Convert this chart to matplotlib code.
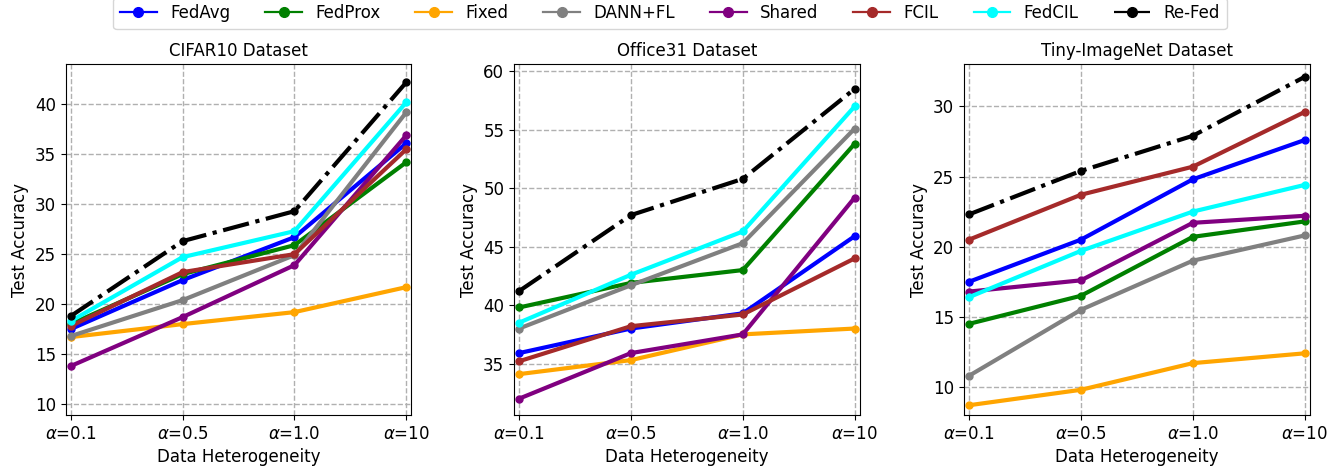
import matplotlib
matplotlib.use("Agg")
import matplotlib.pyplot as plt
from matplotlib.lines import Line2D

x_labels = [r'$\alpha$=0.1', r'$\alpha$=0.5', r'$\alpha$=1.0', r'$\alpha$=10']
methods = ['FedAvg', 'FedProx', 'Fixed', 'DANN+FL', 'Shared', 'FCIL', 'FedCIL', 'Re-Fed']
colors = ['blue', 'green', 'orange', 'gray', 'purple', 'brown', 'cyan', 'black']

cifar10 = {
    'FedAvg':  [17.5, 22.4, 26.7, 36.1],
    'FedProx': [18.0, 23.0, 25.9, 34.2],
    'Fixed':   [16.7, 18.0, 19.2, 21.7],
    'DANN+FL': [16.8, 20.4, 24.9, 39.2],
    'Shared':  [13.8, 18.7, 23.9, 36.9],
    'FCIL':    [17.8, 23.2, 25.0, 35.5],
    'FedCIL':  [18.3, 24.7, 27.3, 40.2],
    'Re-Fed':  [18.8, 26.3, 29.3, 42.2],
}
office31 = {
    'FedAvg':  [35.9, 38.0, 39.3, 45.9],
    'FedProx': [39.8, 41.9, 43.0, 53.8],
    'Fixed':   [34.1, 35.3, 37.5, 38.0],
    'DANN+FL': [38.0, 41.7, 45.3, 55.1],
    'Shared':  [32.0, 35.9, 37.5, 49.2],
    'FCIL':    [35.2, 38.2, 39.2, 44.0],
    'FedCIL':  [38.5, 42.6, 46.3, 57.0],
    'Re-Fed':  [41.2, 47.7, 50.8, 58.5],
}
tiny = {
    'FedAvg':  [17.5, 20.5, 24.8, 27.6],
    'FedProx': [14.5, 16.5, 20.7, 21.8],
    'Fixed':   [8.7, 9.8, 11.7, 12.4],
    'DANN+FL': [10.8, 15.5, 19.0, 20.8],
    'Shared':  [16.8, 17.6, 21.7, 22.2],
    'FCIL':    [20.5, 23.7, 25.7, 29.6],
    'FedCIL':  [16.4, 19.7, 22.5, 24.4],
    'Re-Fed':  [22.3, 25.4, 27.9, 32.1],
}
datasets = [('CIFAR10 Dataset', cifar10, (8.9, 44.0), [10, 15, 20, 25, 30, 35, 40]),
            ('Office31 Dataset', office31, (30.6, 60.6), [35, 40, 45, 50, 55, 60]),
            ('Tiny-ImageNet Dataset', tiny, (8.0, 33.0), [10, 15, 20, 25, 30])]

fig = plt.figure(figsize=(13.4, 4.69), dpi=100)
lefts = [0.049, 0.3836, 0.7194]
w = 0.258
bottom = 0.115
h = 0.748
for i, (title, data, ylim, yt) in enumerate(datasets):
    ax = fig.add_axes([lefts[i], bottom, w, h])
    xs = list(range(len(x_labels)))
    for m, c in zip(methods, colors):
        ls = '-.' if m == 'Re-Fed' else '-'
        ax.plot(xs, data[m], color=c, linestyle=ls, linewidth=3,
                marker='o', markersize=5, label=m)
    ax.set_xlim(-0.045, 3.045)
    ax.set_ylim(*ylim)
    ax.set_yticks(yt)
    ax.set_xticks(xs)
    ax.set_xticklabels(x_labels)
    ax.tick_params(labelsize=12)
    ax.grid(True, linestyle='--', color='#b0b0b0', linewidth=1)
    ax.set_title(title, fontsize=12)
    ax.set_xlabel('Data Heterogeneity', fontsize=12)
    ax.set_ylabel('Test Accuracy', fontsize=12)

handles = [Line2D([], [], color=c, linestyle='-.' if m == 'Re-Fed' else '-',
                  linewidth=1.6, marker='o', markersize=7)
           for m, c in zip(methods, colors)]
fig.legend(handles, methods, loc='upper center', bbox_to_anchor=(0.5, 1.005),
           ncol=8, fontsize=12, handlelength=2.2, columnspacing=2.1,
           borderaxespad=0.0)
fig.savefig('out.png', dpi=100)
